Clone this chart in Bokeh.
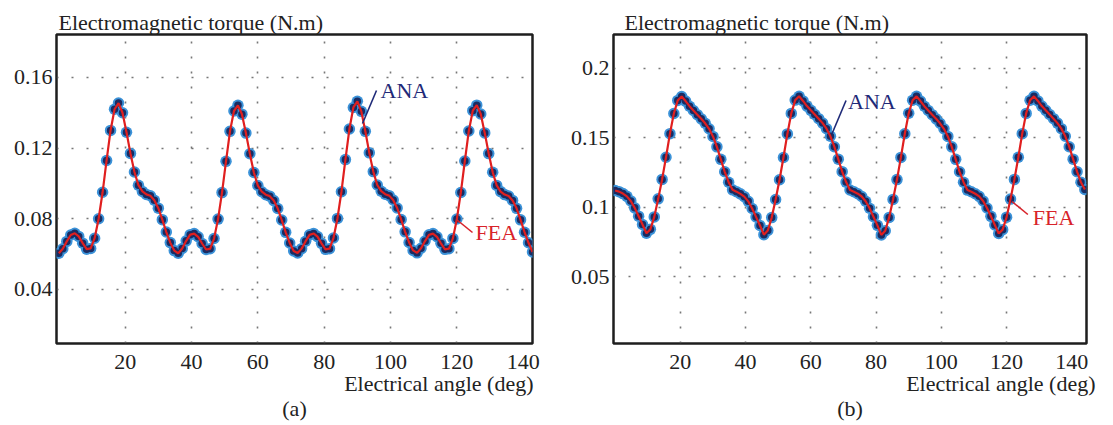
from bokeh.plotting import figure
from bokeh.layouts import row
from bokeh.models import Range1d, FixedTicker, Label, Title
from bokeh.embed import file_html
from bokeh.resources import INLINE

# ---------------- data ----------------
step_a = 1.2
torque_a = [
    0.0605, 0.0630, 0.0672, 0.0708, 0.0718, 0.0700, 0.0662, 0.0628, 0.0632, 0.0690,
    0.0800, 0.0950, 0.1130, 0.1300, 0.1420, 0.1455, 0.1400, 0.1290, 0.1170, 0.1065,
    0.0990, 0.0955, 0.0938, 0.0930, 0.0905, 0.0860, 0.0795, 0.0725, 0.0665, 0.0620,
    0.0605, 0.0632, 0.0675, 0.0710, 0.0716, 0.0698, 0.0660, 0.0626, 0.0630, 0.0688,
    0.0798, 0.0948, 0.1125, 0.1295, 0.1410, 0.1442, 0.1392, 0.1285, 0.1168, 0.1062,
    0.0988, 0.0953, 0.0936, 0.0928, 0.0903, 0.0858, 0.0793, 0.0723, 0.0663, 0.0618,
    0.0606, 0.0631, 0.0673, 0.0709, 0.0717, 0.0699, 0.0661, 0.0627, 0.0631, 0.0691,
    0.0802, 0.0953, 0.1135, 0.1308, 0.1430, 0.1465, 0.1408, 0.1295, 0.1173, 0.1067,
    0.0991, 0.0956, 0.0939, 0.0931, 0.0906, 0.0861, 0.0796, 0.0726, 0.0666, 0.0621,
    0.0607, 0.0633, 0.0674, 0.0709, 0.0716, 0.0698, 0.0661, 0.0627, 0.0631, 0.0689,
    0.0799, 0.0949, 0.1127, 0.1297, 0.1412, 0.1443, 0.1393, 0.1286, 0.1169, 0.1063,
    0.0989, 0.0954, 0.0937, 0.0929, 0.0904, 0.0859, 0.0794, 0.0724, 0.0664, 0.0612,
]
step_b = 1.2
torque_b = [
    0.1120, 0.1112, 0.1098, 0.1078, 0.1045, 0.0995, 0.0935, 0.0875, 0.0812, 0.0840,
    0.0930, 0.1060, 0.1200, 0.1360, 0.1530, 0.1675, 0.1770, 0.1798, 0.1765, 0.1728,
    0.1697, 0.1667, 0.1637, 0.1605, 0.1565, 0.1510, 0.1435, 0.1345, 0.1255, 0.1180,
    0.1125, 0.1112, 0.1096, 0.1076, 0.1042, 0.0990, 0.0930, 0.0868, 0.0802, 0.0832,
    0.0925, 0.1055, 0.1198, 0.1358, 0.1528, 0.1676, 0.1772, 0.1800, 0.1766, 0.1729,
    0.1698, 0.1668, 0.1638, 0.1606, 0.1566, 0.1511, 0.1436, 0.1346, 0.1256, 0.1181,
    0.1124, 0.1111, 0.1097, 0.1077, 0.1043, 0.0992, 0.0931, 0.0869, 0.0800, 0.0830,
    0.0926, 0.1056, 0.1199, 0.1359, 0.1529, 0.1677, 0.1771, 0.1799, 0.1765, 0.1728,
    0.1697, 0.1667, 0.1637, 0.1605, 0.1565, 0.1510, 0.1435, 0.1345, 0.1255, 0.1180,
    0.1123, 0.1111, 0.1097, 0.1078, 0.1045, 0.0994, 0.0934, 0.0872, 0.0810, 0.0838,
    0.0928, 0.1058, 0.1200, 0.1360, 0.1530, 0.1676, 0.1771, 0.1799, 0.1766, 0.1729,
    0.1698, 0.1668, 0.1638, 0.1606, 0.1566, 0.1511, 0.1436, 0.1346, 0.1256, 0.1180,
    0.1128,
]
angle_a = [round(i * step_a, 2) for i in range(len(torque_a))]
angle_b = [round(i * step_b, 2) for i in range(len(torque_b))]

xticks = [20, 40, 60, 80, 100, 120, 140]
xgrid = [20, 40, 60, 80, 100, 120]
yticks_a = [0.04, 0.08, 0.12, 0.16]
ylabels_a = ["0.04", "0.08", "0.12", "0.16"]
yticks_b = [0.05, 0.1, 0.15, 0.2]
ylabels_b = ["0.05", "0.1", "0.15", "0.2"]

title_text = "Electromagnetic torque (N.m)"
xlabel_text = "Electrical angle (deg)"

# ---------------- style ----------------
FONT = "Liberation Serif"
FS = "22px"
TXT = "#222222"
NAVY = "#1f2a78"
RED = "#d8232a"
LINE_RED = "#e01f1f"

FRAME_W, FRAME_H, FRAME_TOP = 476, 309, 34
FIG_H = 424


def make_panel(angles, vals, xr, yr, frame_left, fig_left, fig_w,
               yt, yl, tag, title_off, xlabel_off, tag_off,
               ana_txt, ana_seg, fea_txt, fea_seg):
    p = figure(width=fig_w, height=FIG_H, output_backend="svg",
               toolbar_location=None,
               x_range=Range1d(*xr), y_range=Range1d(*yr),
               min_border_left=frame_left - fig_left,
               min_border_right=fig_w - (frame_left - fig_left) - FRAME_W,
               min_border_top=FRAME_TOP,
               min_border_bottom=FIG_H - FRAME_TOP - FRAME_H)
    p.background_fill_color = "white"
    p.border_fill_color = "white"
    p.outline_line_color = "#1e1e1e"
    p.outline_line_width = 2.5

    def to_data(px, py):
        x = xr[0] + (px - frame_left) / FRAME_W * (xr[1] - xr[0])
        y = yr[1] - (py - FRAME_TOP) / FRAME_H * (yr[1] - yr[0])
        return x, y

    # top title
    p.title.text = title_text
    p.title.align = "left"
    p.title.offset = title_off
    p.title.standoff = 0
    p.title.text_font = FONT
    p.title.text_font_size = FS
    p.title.text_font_style = "normal"
    p.title.text_color = TXT

    # axes
    p.xaxis.ticker = FixedTicker(ticks=xticks)
    p.yaxis.ticker = FixedTicker(ticks=yt)
    p.yaxis.major_label_overrides = {t: l for t, l in zip(yt, yl)}
    for ax in (p.xaxis, p.yaxis):
        ax.axis_line_color = None
        ax.major_tick_line_color = None
        ax.minor_tick_line_color = None
        ax.major_tick_in = 0
        ax.major_tick_out = 0
        ax.major_label_text_font = FONT
        ax.major_label_text_font_size = FS
        ax.major_label_text_color = TXT
    p.xaxis.major_label_standoff = 11
    p.yaxis.major_label_standoff = 4

    # x label and panel tag as titles below the axis
    xl = Title(text=xlabel_text, align="right", offset=xlabel_off, standoff=-5,
               text_font=FONT, text_font_size=FS, text_font_style="normal",
               text_color=TXT)
    p.add_layout(xl, "below")
    tg = Title(text=tag, align="center", offset=tag_off, standoff=0,
               text_font=FONT, text_font_size=FS, text_font_style="normal",
               text_color=TXT)
    p.add_layout(tg, "below")

    # grid
    p.xgrid.ticker = FixedTicker(ticks=xgrid)
    p.ygrid.ticker = FixedTicker(ticks=yt)
    for g in (p.xgrid, p.ygrid):
        g.grid_line_color = "#555555"
        g.grid_line_dash = "2 13"
        g.grid_line_width = 1.6
        g.grid_line_alpha = 0.8

    # data: ANA markers (blue halo + dark core) + FEA line
    p.scatter(angles, vals, size=11.5, marker="circle", fill_color="#3b92d8",
              line_color=None)
    p.scatter(angles, vals, size=7.5, marker="circle", fill_color="#1a2c62",
              line_color=None)
    p.line(angles, vals, line_color=LINE_RED, line_width=2.2)

    # leaders
    (ax0, ay0), (ax1, ay1) = to_data(*ana_seg[0]), to_data(*ana_seg[1])
    p.segment(x0=[ax0], y0=[ay0], x1=[ax1], y1=[ay1], line_color=NAVY, line_width=1.6)
    (fx0, fy0), (fx1, fy1) = to_data(*fea_seg[0]), to_data(*fea_seg[1])
    p.segment(x0=[fx0], y0=[fy0], x1=[fx1], y1=[fy1], line_color=RED, line_width=1.6)

    def add_text(txt, px, py, color):
        x, y = to_data(px, py)
        p.add_layout(Label(x=x, y=y, text=txt, text_font=FONT, text_font_size=FS,
                           text_align="left", text_baseline="alphabetic",
                           text_color=color))

    add_text("ANA", ana_txt[0], ana_txt[1], NAVY)
    add_text("FEA", fea_txt[0], fea_txt[1], RED)
    return p


pa = make_panel(angle_a, torque_a, (-0.7, 142.8), (0.0094, 0.1843),
                frame_left=56, fig_left=0, fig_w=567,
                yt=yticks_a, yl=ylabels_a, tag="(a)",
                title_off=2, xlabel_off=-1, tag_off=-5,
                ana_txt=(380, 90), ana_seg=((376, 90), (362, 123)),
                fea_txt=(475, 232), fea_seg=((456, 219), (472, 232)))

pb = make_panel(angle_b, torque_b, (-0.5, 144.5), (0.0017, 0.2245),
                frame_left=610, fig_left=567, fig_w=545,
                yt=yticks_b, yl=ylabels_b, tag="(b)",
                title_off=11, xlabel_off=-9, tag_off=8,
                ana_txt=(846, 101), ana_seg=((844, 100), (830, 133)),
                fea_txt=(1032, 217), fea_seg=((1011, 201), (1027, 214)))

layout = row(pa, pb, spacing=0)
open("out.html", "w").write(file_html(layout, INLINE))
